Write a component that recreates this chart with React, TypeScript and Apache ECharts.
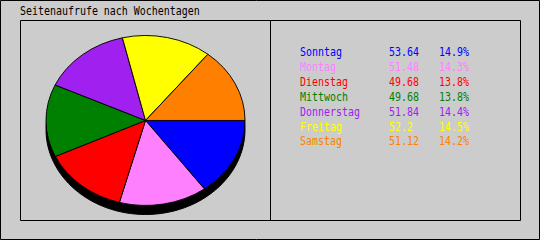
import React, { useEffect, useRef } from "react";
import * as echarts from "echarts";

const title = "Seitenaufrufe nach Wochentagen";
const days = ["Sonntag", "Montag", "Dienstag", "Mittwoch", "Donnerstag", "Freitag", "Samstag"];
const values = [53.64, 51.48, 49.68, 49.68, 51.84, 52.2, 51.12];
const colors = ["#0000ff", "#ff80ff", "#ff0000", "#008000", "#a020f0", "#ffff00", "#ff8000"];

const FONT = "'DejaVu Sans Mono', 'Liberation Mono', monospace";
const FS = 12;
const SX = 0.83;

export default function App() {
  const ref = useRef<HTMLDivElement>(null);
  useEffect(() => {
    if (!ref.current) return;
    const chart = echarts.init(ref.current, null, { renderer: "svg" });
    const total = values.reduce((a, b) => a + b, 0);
    const cum: number[] = [];
    let acc = 0;
    values.forEach((v) => {
      cum.push(acc);
      acc += v;
    });
    const cx = 145.5;
    const cy = 120.5;
    const rx = 99.5;
    const ry = 85;
    const depth = 9;

    const legendEls: any[] = [];
    days.forEach((d, i) => {
      const y = 52.5 + i * 14.85;
      const pct = ((values[i] / total) * 100).toFixed(1) + "%";
      [
        [d, 300],
        [String(values[i]), 389],
        [pct, 439],
      ].forEach(([t, x]) => {
        legendEls.push({
          type: "text",
          x: x as number,
          y,
          z: 10,
          scaleX: SX,
          style: {
            text: t as string,
            fill: colors[i],
            font: `${FS}px ${FONT}`,
            textVerticalAlign: "middle",
            textAlign: "left",
          },
        });
      });
    });

    chart.setOption({
      animation: false,
      backgroundColor: "#cccccc",
      graphic: [
        {
          type: "rect",
          z: 0,
          shape: { x: 0.5, y: 0.5, width: 539, height: 239 },
          style: { fill: "#cccccc", stroke: "#000", lineWidth: 1 },
        },
        {
          type: "rect",
          z: 1,
          shape: { x: 20.5, y: 20.5, width: 500, height: 200 },
          style: { fill: "none", stroke: "#000", lineWidth: 1 },
        },
        {
          type: "line",
          z: 1,
          shape: { x1: 270.5, y1: 20.5, x2: 270.5, y2: 220.5 },
          style: { stroke: "#000", lineWidth: 1 },
        },
        {
          type: "text",
          x: 20,
          y: 11.5,
          z: 10,
          scaleX: SX,
          style: {
            text: title,
            fill: "#000",
            font: `${FS}px ${FONT}`,
            textVerticalAlign: "middle",
          },
        },
        {
          type: "ellipse",
          z: 1,
          shape: { cx, cy: cy + depth, rx, ry },
          style: { fill: "#000", stroke: "#000", lineWidth: 1 },
        },
        ...legendEls,
      ],
      series: [
        {
          type: "custom",
          coordinateSystem: "none",
          z: 5,
          data: values,
          renderItem: (params: any) => {
            const i = params.dataIndex;
            const a0 = (cum[i] / total) * Math.PI * 2;
            const a1 = ((cum[i] + values[i]) / total) * Math.PI * 2;
            return {
              type: "sector",
              shape: { cx, cy, r: rx, r0: 0, startAngle: a0, endAngle: a1, clockwise: true },
              scaleY: ry / rx,
              originX: cx,
              originY: cy,
              style: { fill: colors[i], stroke: "#000", lineWidth: 1 },
            };
          },
        },
      ],
    });
    return () => chart.dispose();
  }, []);
  return (
    <div
      ref={ref}
      style={{ position: "fixed", left: 0, top: 0, width: 540, height: 240 }}
    />
  );
}
